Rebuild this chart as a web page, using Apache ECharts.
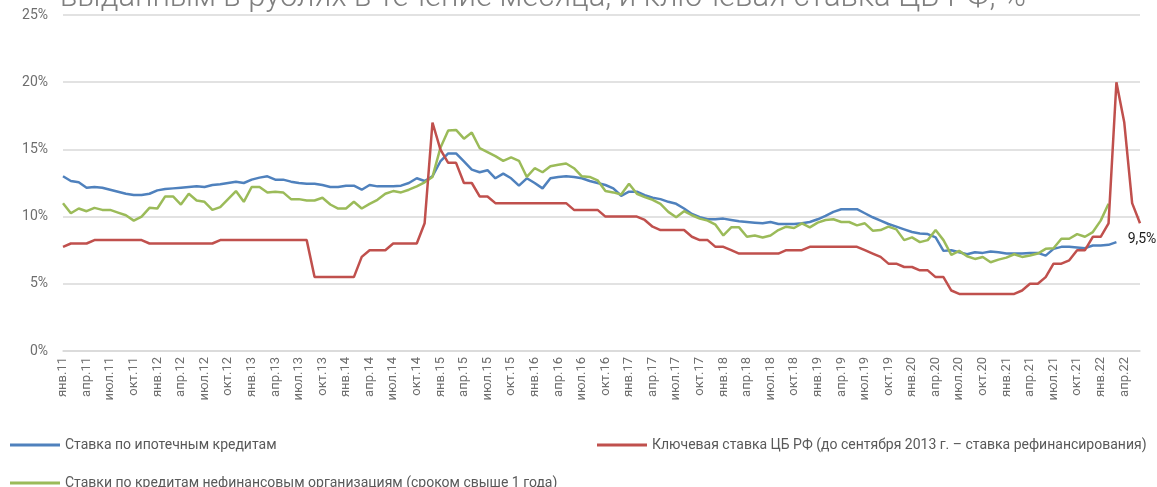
<!DOCTYPE html>
<html>
<head>
<meta charset="utf-8">
<script src="https://cdn.jsdelivr.net/npm/echarts@6/dist/echarts.min.js"></script>
<style>
  html, body { margin: 0; padding: 0; background: #fff; }
  #chart { width: 1157px; height: 487px; }
</style>
</head>
<body>
<div id="chart"></div>
<script>
// подписи месяцев (янв.11 ... июн.22)
const monthNames = ['янв', 'фев', 'мар', 'апр', 'май', 'июн', 'июл', 'авг', 'сен', 'окт', 'ноя', 'дек'];
const years = ['11', '12', '13', '14', '15', '16', '17', '18', '19', '20', '21', '22'];
const lastYearMonths = 6;

const categories = [];
years.forEach((y, yi) => {
  const n = yi === years.length - 1 ? lastYearMonths : 12;
  for (let m = 0; m < n; m++) categories.push(monthNames[m] + '.' + y);
});

const yTicks = [0, 5, 10, 15, 20, 25];

// Ставка по ипотечным кредитам
const mortgage = [
  13.0, 12.65, 12.55, 12.15, 12.2, 12.15, 12.0, 11.85, 11.7, 11.6, 11.6, 11.7,
  11.95, 12.05, 12.1, 12.15, 12.2, 12.25, 12.2, 12.35, 12.4, 12.5, 12.6, 12.5,
  12.75, 12.9, 13.0, 12.75, 12.75, 12.6, 12.5, 12.45, 12.45, 12.35, 12.2, 12.2,
  12.3, 12.3, 12.0, 12.35, 12.25, 12.25, 12.25, 12.3, 12.5, 12.85, 12.65, 13.0,
  14.1, 14.7, 14.7, 14.1, 13.5, 13.3, 13.45, 12.85, 13.2, 12.85, 12.3, 12.85,
  12.5, 12.1, 12.85, 12.95, 13.0, 12.95, 12.85, 12.65, 12.5, 12.35, 12.1, 11.55,
  11.85, 11.85, 11.6, 11.4, 11.3, 11.1, 10.95, 10.6, 10.2, 9.95, 9.8, 9.8,
  9.85, 9.75, 9.65, 9.6, 9.55, 9.5, 9.6, 9.45, 9.45, 9.45, 9.5, 9.6,
  9.8, 10.05, 10.35, 10.55, 10.55, 10.55, 10.25, 9.95, 9.7, 9.45, 9.25, 9.05,
  8.85, 8.75, 8.7, 8.45, 7.45, 7.5, 7.35, 7.2, 7.35, 7.3, 7.4, 7.35,
  7.25, 7.25, 7.25, 7.3, 7.3, 7.1, 7.6, 7.75, 7.75, 7.7, 7.65, 7.85,
  7.85, 7.9, 8.1, null, null, null
];

// Ключевая ставка ЦБ РФ
const keyRate = [
  7.75, 8.0, 8.0, 8.0, 8.25, 8.25, 8.25, 8.25, 8.25, 8.25, 8.25, 8.0,
  8.0, 8.0, 8.0, 8.0, 8.0, 8.0, 8.0, 8.0, 8.25, 8.25, 8.25, 8.25,
  8.25, 8.25, 8.25, 8.25, 8.25, 8.25, 8.25, 8.25, 5.5, 5.5, 5.5, 5.5,
  5.5, 5.5, 7.0, 7.5, 7.5, 7.5, 8.0, 8.0, 8.0, 8.0, 9.5, 17.0,
  15.0, 14.0, 14.0, 12.5, 12.5, 11.5, 11.5, 11.0, 11.0, 11.0, 11.0, 11.0,
  11.0, 11.0, 11.0, 11.0, 11.0, 10.5, 10.5, 10.5, 10.5, 10.0, 10.0, 10.0,
  10.0, 10.0, 9.75, 9.25, 9.0, 9.0, 9.0, 9.0, 8.5, 8.25, 8.25, 7.75,
  7.75, 7.5, 7.25, 7.25, 7.25, 7.25, 7.25, 7.25, 7.5, 7.5, 7.5, 7.75,
  7.75, 7.75, 7.75, 7.75, 7.75, 7.75, 7.5, 7.25, 7.0, 6.5, 6.5, 6.25,
  6.25, 6.0, 6.0, 5.5, 5.5, 4.5, 4.25, 4.25, 4.25, 4.25, 4.25, 4.25,
  4.25, 4.25, 4.5, 5.0, 5.0, 5.5, 6.5, 6.5, 6.75, 7.5, 7.5, 8.5,
  8.5, 9.5, 20.0, 17.0, 11.0, 9.5
];

// Ставки по кредитам нефинансовым организациям (свыше 1 года)
const corporate = [
  11.0, 10.25, 10.6, 10.4, 10.65, 10.5, 10.5, 10.3, 10.1, 9.7, 10.0, 10.65,
  10.6, 11.5, 11.5, 10.9, 11.7, 11.2, 11.1, 10.5, 10.7, 11.3, 11.9, 11.1,
  12.2, 12.2, 11.8, 11.85, 11.8, 11.3, 11.3, 11.2, 11.2, 11.4, 10.9, 10.6,
  10.6, 11.1, 10.6, 10.95, 11.25, 11.7, 11.9, 11.8, 12.0, 12.25, 12.55, 12.95,
  15.1, 16.4, 16.45, 15.8, 16.25, 15.1, 14.8, 14.5, 14.15, 14.4, 14.15, 12.95,
  13.6, 13.3, 13.75, 13.85, 13.95, 13.6, 13.0, 12.95, 12.7, 11.9, 11.8, 11.65,
  12.45, 11.7, 11.45, 11.25, 10.95, 10.35, 9.95, 10.4, 10.1, 9.85, 9.7, 9.4,
  8.6, 9.2, 9.2, 8.5, 8.6, 8.45, 8.6, 9.0, 9.25, 9.15, 9.5, 9.2,
  9.55, 9.75, 9.8, 9.6, 9.6, 9.35, 9.5, 8.95, 9.0, 9.25, 9.05, 8.25,
  8.45, 8.1, 8.25, 9.0, 8.25, 7.15, 7.45, 7.05, 6.85, 7.0, 6.6, 6.8,
  6.95, 7.2, 7.0, 7.1, 7.25, 7.6, 7.65, 8.35, 8.35, 8.7, 8.5, 8.85,
  9.7, 10.95, null, null, null, null
];

const names = [
  'Ставка по ипотечным кредитам',
  'Ключевая ставка ЦБ РФ (до сентября 2013 г. – ставка рефинансирования)',
  'Ставки по кредитам нефинансовым организациям (сроком свыше 1 года)'
];
const titleText = 'выданным в рублях в течение месяца, и ключевая ставка ЦБ РФ, %';

const chart = echarts.init(document.getElementById('chart'));

const legendBase = {
  icon: 'rect',
  itemWidth: 50,
  itemHeight: 3,
  textStyle: { color: '#595959', fontSize: 14, fontFamily: 'Roboto' }
};

const option = {
  animation: false,
  graphic: [{
    type: 'text',
    left: 60,
    top: -17,
    style: {
      text: titleText,
      font: '300 31px Roboto',
      fill: '#7f7f7f'
    }
  }],
  legend: [
    Object.assign({ data: [names[0]], left: 5, top: 433 }, legendBase),
    Object.assign({ data: [names[1]], left: 592, top: 433 }, legendBase),
    Object.assign({ data: [names[2]], left: 5, top: 471 }, legendBase)
  ],
  grid: { left: 63, right: 17, top: 15, bottom: 136 },
  xAxis: {
    type: 'category',
    data: categories,
    boundaryGap: false,
    axisLine: { lineStyle: { color: '#d9d9d9', width: 1.5 } },
    axisTick: { show: false },
    axisLabel: {
      interval: 2,
      rotate: 90,
      margin: 6,
      color: '#6e6e6e',
      fontSize: 13,
      fontFamily: 'Roboto'
    }
  },
  yAxis: {
    type: 'value',
    min: yTicks[0],
    max: yTicks[yTicks.length - 1],
    interval: 5,
    axisLine: { show: false },
    axisTick: { show: false },
    splitLine: { lineStyle: { color: '#d9d9d9', width: 1.5 } },
    axisLabel: {
      formatter: '{value}%',
      margin: 15,
      color: '#6e6e6e',
      fontSize: 14,
      fontFamily: 'Roboto'
    }
  },
  series: [
    {
      name: names[0],
      type: 'line',
      data: mortgage,
      showSymbol: false,
      color: '#4f81bd',
      lineStyle: { width: 2.5 },
      z: 2
    },
    {
      name: names[2],
      type: 'line',
      data: corporate,
      showSymbol: false,
      color: '#9bbb59',
      lineStyle: { width: 2.5 },
      z: 3
    },
    {
      name: names[1],
      type: 'line',
      data: keyRate,
      showSymbol: false,
      color: '#c0504d',
      lineStyle: { width: 2.5 },
      // подпись последнего значения
      endLabel: {
        show: true,
        formatter: (p) => String(p.value).replace('.', ',') + '%',
        distance: 0,
        align: 'center',
        verticalAlign: 'top',
        offset: [2, 9],
        color: '#1a1a1a',
        fontSize: 14,
        fontFamily: 'Roboto'
      },
      z: 4
    }
  ]
};

chart.setOption(option);
</script>
</body>
</html>
